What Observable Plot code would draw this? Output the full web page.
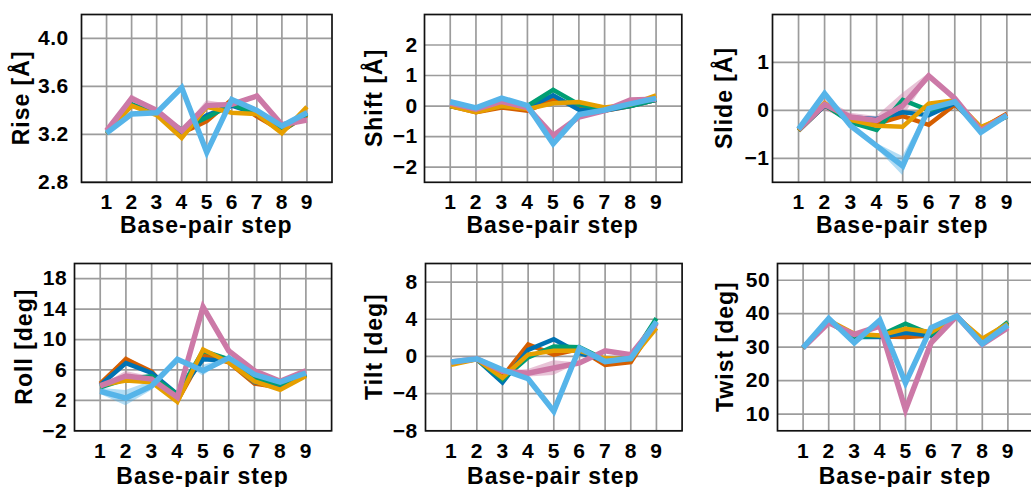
<!DOCTYPE html>
<html><head><meta charset="utf-8">
<script src="https://cdn.jsdelivr.net/npm/d3@7"></script>
<script src="https://cdn.jsdelivr.net/npm/@observablehq/plot@0.6"></script>
<style>
html,body{margin:0;padding:0;background:#fff;overflow:hidden;}
#fig{position:relative;width:1031px;height:487px;overflow:hidden;background:#fff;}
#fig svg{position:absolute;}
</style></head><body><div id="fig"></div>
<script>
const steps = [1, 2, 3, 4, 5, 6, 7, 8, 9];
const xLabel = "Base-pair step";
const seriesNames = ["vermillion", "blue", "green", "orange", "pink", "skyblue"];
const seriesColors = ["#D55E00", "#0072B2", "#009E73", "#E69F00", "#CC79A7", "#56B4E9"];
const seriesWidths = [4.5, 4.5, 4.5, 4.5, 5.5, 5.5];

// values per series, in seriesNames order
const riseValues = [
  [3.21, 3.44, 3.38, 3.21, 3.31, 3.49, 3.35, 3.23, 3.36],
  [3.21, 3.45, 3.37, 3.22, 3.36, 3.44, 3.37, 3.24, 3.38],
  [3.21, 3.45, 3.37, 3.24, 3.34, 3.45, 3.37, 3.23, 3.37],
  [3.21, 3.44, 3.36, 3.17, 3.43, 3.38, 3.37, 3.21, 3.43],
  [3.23, 3.50, 3.40, 3.23, 3.44, 3.45, 3.52, 3.28, 3.32],
  [3.21, 3.37, 3.38, 3.59, 3.05, 3.49, 3.40, 3.27, 3.38]
];
const riseSpread = [
  [0, 0, 0, 0, 0, 0, 0, 0, 0],
  [0, 0, 0, 0, 0, 0, 0, 0, 0],
  [0, 0, 0, 0, 0, 0, 0, 0, 0],
  [0, 0.01, 0, 0, 0.02, 0, 0, 0, 0],
  [0, 0.03, 0.01, 0, 0.04, 0, 0, 0, 0],
  [0, 0, 0, 0, 0, 0, 0, 0, 0]
];
const shiftValues = [
  [0.00, -0.20, -0.05, -0.15, 0.20, 0.00, -0.15, 0.00, 0.20],
  [0.00, -0.15, 0.05, -0.05, 0.35, -0.12, -0.15, 0.00, 0.20],
  [0.00, -0.15, 0.00, 0.00, 0.53, 0.05, -0.10, 0.00, 0.20],
  [0.00, -0.20, 0.00, -0.10, 0.09, 0.13, -0.05, 0.05, 0.35],
  [0.10, -0.10, 0.15, -0.05, -0.97, -0.36, -0.15, 0.20, 0.22],
  [0.14, -0.06, 0.26, 0.01, -1.24, -0.28, -0.13, 0.07, 0.25]
];
const shiftSpread = [
  [0, 0, 0, 0, 0, 0, 0, 0, 0],
  [0, 0, 0, 0, 0, 0, 0, 0, 0],
  [0, 0, 0, 0, 0, 0, 0, 0, 0],
  [0, 0, 0, 0, 0, 0, 0, 0, 0],
  [0, 0, 0, 0, 0.08, 0, 0, 0, 0],
  [0, 0, 0.03, 0, 0.05, 0, 0, 0, 0]
];
const slideValues = [
  [-0.42, 0.10, -0.20, -0.28, -0.12, -0.30, 0.12, -0.38, -0.07],
  [-0.42, 0.10, -0.15, -0.18, -0.04, -0.10, 0.15, -0.40, -0.12],
  [-0.42, 0.12, -0.25, -0.41, 0.22, 0.00, 0.18, -0.40, -0.12],
  [-0.42, 0.15, -0.20, -0.32, -0.34, 0.14, 0.21, -0.35, -0.12],
  [-0.40, 0.12, -0.14, -0.21, 0.10, 0.72, 0.25, -0.42, -0.10],
  [-0.39, 0.35, -0.32, -0.74, -1.16, 0.04, 0.18, -0.46, -0.10]
];
const slideSpread = [
  [0, 0, 0, 0, 0, 0, 0, 0, 0],
  [0, 0, 0, 0, 0, 0, 0, 0, 0],
  [0, 0, 0, 0, 0, 0, 0, 0, 0],
  [0, 0, 0, 0, 0, 0, 0, 0, 0],
  [0, 0.12, 0.08, 0.08, 0.25, 0.05, 0, 0, 0],
  [0, 0.03, 0, 0.05, 0.2, 0, 0, 0, 0]
];
const rollValues = [
  [4.2, 7.4, 5.8, 1.9, 8.0, 7.0, 4.2, 3.7, 5.3],
  [4.0, 6.9, 5.6, 2.8, 7.4, 7.2, 4.4, 3.9, 5.5],
  [3.7, 4.8, 5.2, 2.8, 8.5, 7.4, 5.0, 4.1, 5.4],
  [4.0, 4.6, 4.4, 1.8, 8.7, 7.0, 4.5, 3.4, 5.2],
  [3.9, 5.2, 4.8, 2.4, 14.3, 8.5, 5.9, 4.5, 5.9],
  [3.2, 2.3, 3.9, 7.4, 5.9, 7.6, 5.4, 4.4, 5.6]
];
const rollSpread = [
  [0, 0.4, 0, 0.2, 0, 0, 0, 0, 0],
  [0, 0.2, 0, 0, 0, 0, 0, 0, 0],
  [0, 0, 0, 0, 0, 0, 0, 0, 0],
  [0, 0.3, 0, 0, 0, 0, 0, 0, 0],
  [0, 0.6, 0.3, 0, 0, 0, 0, 0, 0],
  [0.4, 1.0, 0.6, 0, 0.7, 0, 0, 0, 0]
];
const tiltValues = [
  [-0.7, -0.2, -2.2, 1.3, 0.2, 0.8, -0.9, -0.6, 3.6],
  [-0.6, -0.3, -2.8, 0.7, 1.86, 0.35, -0.4, -0.3, 3.7],
  [-0.7, -0.3, -2.5, -0.1, 1.08, 1.0, -0.35, -0.2, 4.1],
  [-0.9, -0.3, -2.3, 0.2, 0.6, 0.6, -0.2, -0.3, 3.05],
  [-0.6, -0.25, -1.6, -1.8, -1.25, -0.7, 0.6, 0.18, 3.6],
  [-0.6, -0.25, -1.43, -2.4, -5.9, 0.9, -0.55, -0.2, 3.76]
];
const tiltSpread = [
  [0, 0, 0, 0, 0, 0, 0, 0, 0],
  [0, 0, 0, 0, 0, 0, 0, 0, 0],
  [0, 0, 0, 0, 0, 0, 0, 0, 0],
  [0, 0, 0, 0, 0, 0, 0, 0, 0],
  [0, 0, 0, 0.4, 0.8, 0, 0, 0, 0],
  [0, 0, 0, 0, 0, 0, 0, 0, 0]
];
const twistValues = [
  [29.8, 37.5, 33.5, 33.2, 33.0, 33.5, 39.2, 32.0, 37.0],
  [29.8, 37.5, 33.0, 33.0, 34.3, 33.5, 39.2, 31.5, 37.0],
  [29.8, 37.5, 33.0, 33.5, 37.0, 33.8, 39.2, 31.5, 37.5],
  [29.8, 38.0, 34.0, 33.5, 35.5, 34.5, 39.0, 32.5, 37.0],
  [29.8, 37.3, 33.8, 36.3, 11.3, 31.3, 39.3, 30.8, 35.8],
  [29.8, 38.6, 31.3, 38.1, 19.3, 35.8, 39.3, 31.0, 36.6]
];
const twistSpread = [
  [0, 0, 0, 0, 0, 0, 0, 0, 0],
  [0, 0, 0, 0, 0, 0, 0, 0, 0],
  [0, 0, 0, 0, 0, 0, 0, 0, 0],
  [0, 0, 0, 0, 0, 0, 0, 0, 0],
  [0, 0, 0.4, 0, 0.6, 0, 0, 0, 0],
  [0, 0, 0, 0, 0, 0, 0, 0, 0]
];

const riseTicks = [2.8, 3.2, 3.6, 4.0];
const shiftTicks = [-2, -1, 0, 1, 2];
const slideTicks = [-1, 0, 1];
const rollTicks = [-2, 2, 6, 10, 14, 18];
const tiltTicks = [-8, -4, 0, 4, 8];
const twistTicks = [10, 20, 30, 40, 50];

// layout (pixel frame of each panel)
const panels = [
  {label: "Rise [Å]", values: riseValues, spread: riseSpread, domain: [2.8, 4.2], ticks: riseTicks, fmt: ".1f",
   frame: [81, 331.5, 14, 181.8], yLabelOff: 51.6, yPad: 12.7, xLabelOff: 51.5},
  {label: "Shift [Å]", values: shiftValues, spread: shiftSpread, domain: [-2.5, 3], ticks: shiftTicks, fmt: "d",
   frame: [424.3, 681.6, 14, 181.8], yLabelOff: 42.3, yPad: 6.7, xLabelOff: 51.5},
  {label: "Slide [Å]", values: slideValues, spread: slideSpread, domain: [-1.5, 2], ticks: slideTicks, fmt: "d",
   frame: [772.4, 1032.8, 14, 181.8], yLabelOff: 39.7, yPad: 3, xLabelOff: 51.5},
  {label: "Roll [deg]", values: rollValues, spread: rollSpread, domain: [-2, 20], ticks: rollTicks, fmt: "d",
   frame: [73.7, 330.8, 262.7, 430], yLabelOff: 42, yPad: 7.3, xLabelOff: 53.3},
  {label: "Tilt [deg]", values: tiltValues, spread: tiltSpread, domain: [-8, 10], ticks: tiltTicks, fmt: "d",
   frame: [425, 681.6, 262.7, 430], yLabelOff: 43.3, yPad: 7.7, xLabelOff: 53.3},
  {label: "Twist [deg]", values: twistValues, spread: twistSpread, domain: [5, 55], ticks: twistTicks, fmt: "d",
   frame: [776.7, 1032.7, 262.7, 430], yLabelOff: 43.7, yPad: 7.4, xLabelOff: 53.3}
];

const FONT = "'Liberation Sans', Arial, Helvetica, sans-serif";
const fig = document.getElementById("fig");

for (const p of panels) {
  const [fx0, fx1, fy0, fy1] = p.frame;
  const W = 345, H = 245;
  const left = fx0 - 75, top = fy0 - 14;
  const mL = 75, mT = 14;
  const mR = W - (fx1 - left), mB = H - (fy1 - top);
  const marks = [
    Plot.gridX(steps, {stroke: "#9c9c9c", strokeOpacity: 1, strokeWidth: 1.7}),
    Plot.gridY(p.ticks, {stroke: "#9c9c9c", strokeOpacity: 1, strokeWidth: 1.7})
  ];
  const byS = seriesNames.map((s, k) => steps.map((st, i) => ({
    series: s, step: st, value: p.values[k][i],
    lo: p.values[k][i] - p.spread[k][i], hi: p.values[k][i] + p.spread[k][i]
  })));
  seriesNames.forEach((s, k) => {
    marks.push(Plot.areaY(byS[k], {x: "step", y1: "lo", y2: "hi", fill: seriesColors[k], fillOpacity: 0.45}));
  });
  seriesNames.forEach((s, k) => {
    marks.push(Plot.lineY(byS[k], {x: "step", y: "value", stroke: seriesColors[k], strokeWidth: seriesWidths[k],
      strokeLinejoin: "miter", strokeMiterlimit: 8, strokeLinecap: "butt"}));
  });
  marks.push(Plot.frame({stroke: "#111", strokeWidth: 1.7}));
  marks.push(Plot.axisX(steps, {anchor: "bottom", tickSize: 0, tickPadding: 12, label: null, tickFormat: d3.format("d"),
    fontSize: 21, fontWeight: "bold"}));
  marks.push(Plot.axisY(p.ticks, {anchor: "left", tickSize: 0, tickPadding: p.yPad, label: null, tickFormat: d3.format(p.fmt),
    fontSize: 21, fontWeight: "bold"}));

  const svg = Plot.plot({
    width: W, height: H,
    marginLeft: mL, marginRight: mR, marginTop: mT, marginBottom: mB,
    x: {domain: [0, 10], axis: null},
    y: {domain: p.domain, axis: null},
    style: `background:none;overflow:visible;max-width:none;font-family:${FONT};font-weight:bold;font-size:21px;letter-spacing:0.5px;color:#000;`,
    marks
  });
  svg.style.left = left + "px";
  svg.style.top = top + "px";
  const s = d3.select(svg);
  const fw = fx1 - fx0, fh = fy1 - fy0;
  s.append("text")
    .attr("x", mL + fw / 2).attr("y", mT + fh + p.xLabelOff)
    .attr("text-anchor", "middle")
    .attr("font-family", FONT).attr("font-weight", "bold").attr("font-size", 23)
    .attr("letter-spacing", "1px").attr("fill", "#000")
    .text(xLabel);
  s.append("text")
    .attr("transform", `translate(${mL - p.yLabelOff},${mT + fh / 2}) rotate(-90)`)
    .attr("text-anchor", "middle")
    .attr("font-family", FONT).attr("font-weight", "bold").attr("font-size", 23)
    .attr("letter-spacing", "1px").attr("fill", "#000")
    .text(p.label);
  fig.appendChild(svg);
}
</script></body></html>
